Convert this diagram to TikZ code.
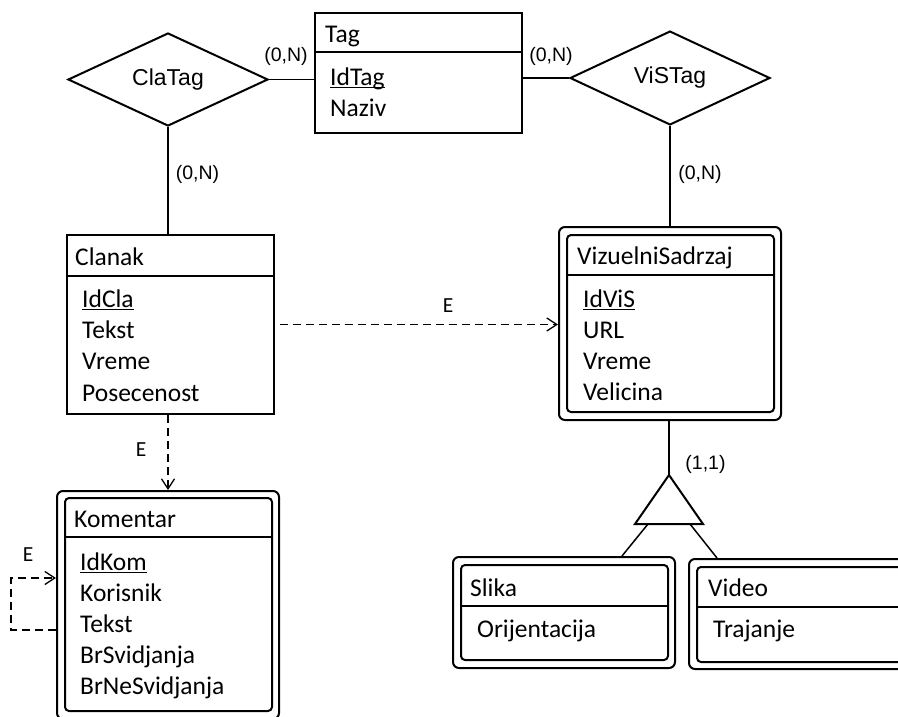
\documentclass[tikz,border=0pt]{standalone}
\usepackage{fontspec}
\setmainfont{Carlito}
\newfontfamily\arialfont{Liberation Sans}
\usetikzlibrary{shapes.geometric,arrows.meta}
\newcommand{\entfont}{\fontsize{25.5}{31}\selectfont}
\newcommand{\relfont}{\arialfont\fontsize{23}{27}\selectfont}
\newcommand{\cardfont}{\arialfont\fontsize{19.5}{23}\selectfont}
\newcommand{\extfont}{\fontsize{21.5}{25}\selectfont}
\newcommand{\keyattr}[1]{\setbox0\hbox{#1}\rlap{\rule[-3pt]{\wd0}{1.4pt}}\box0}

\begin{document}
\begin{tikzpicture}[x=1pt, y=-1pt,
  entity/.style={draw, line width=2pt, minimum width=207pt, inner sep=0pt},
  weakout/.style={draw, line width=2pt, rounded corners=6pt, minimum width=222pt, inner sep=0pt},
  weakin/.style={draw, line width=2pt, rounded corners=4pt, minimum width=207pt, inner sep=0pt},
  divider/.style={line width=2pt},
  relation/.style={draw, diamond, line width=2pt, minimum width=200pt, minimum height=80pt, inner sep=0pt, font=\relfont},
  attr/.style={anchor=base west, inner sep=0pt, font=\entfont},
  card/.style={inner sep=0pt, font=\cardfont},
  extlabel/.style={inner sep=0pt, font=\extfont},
  conn/.style={line width=1.5pt},
  ext/.style={line width=1.3pt, dash pattern=on 8pt off 5pt,
    -{Straight Barb[length=10pt, width=13pt, line width=1.3pt]}}]
\useasboundingbox (0,0) rectangle (898,716);
\clip (0,0) rectangle (898,716);

% Tag
\node[entity, minimum height=120pt] (tag) at (418.5,73) {};
\draw[divider] ([yshift=-40pt]tag.north west) -- ([yshift=-40pt]tag.north east);
\node[attr] (tagname) at (325,42) {Tag};
\node[attr] (tag1) at (330,85) {\keyattr{IdTag}};
\node[attr] (tag2) at (330,116) {Naziv};

% Relations
\node[relation] (clatag) at (168,79.5) {ClaTag};
\node[relation] (vistag) at (670,78) {ViSTag};

% Clanak
\node[entity, minimum height=179pt] (clanak) at (170,324.5) {};
\draw[divider] ([yshift=-42pt]clanak.north west) -- ([yshift=-42pt]clanak.north east);
\node[attr] (claname) at (75,265) {Clanak};
\node[attr] (cla1) at (82,307) {\keyattr{IdCla}};
\node[attr] (cla2) at (82,338) {Tekst};
\node[attr] (cla3) at (82,369) {Vreme};
\node[attr] (cla4) at (82,401) {Posecenost};

% Komentar
\node[weakout, minimum height=228pt] (kom) at (168,605) {};
\node[weakin, minimum height=213pt] (komin) at (168.5,604.5) {};
\draw[divider] ([yshift=-40pt]komin.north west) -- ([yshift=-40pt]komin.north east);
\node[attr] (komname) at (74,527) {Komentar};
\node[attr] (kom1) at (80,570) {\keyattr{IdKom}};
\node[attr] (kom2) at (80,601) {Korisnik};
\node[attr] (kom3) at (80,632) {Tekst};
\node[attr] (kom4) at (80,663) {BrSvidjanja};
\node[attr] (kom5) at (80,694) {BrNeSvidjanja};

% VizuelniSadrzaj
\node[weakout, minimum height=193pt] (vis) at (670,323.5) {};
\node[weakin, minimum height=177pt] (visin) at (670.5,323.5) {};
\draw[divider] ([yshift=-41pt]visin.north west) -- ([yshift=-41pt]visin.north east);
\node[attr] (visname) at (577,264) {VizuelniSadrzaj};
\node[attr] (vis1) at (583,307) {\keyattr{IdViS}};
\node[attr] (vis2) at (583,338) {URL};
\node[attr] (vis3) at (583,369) {Vreme};
\node[attr] (vis4) at (583,400) {Velicina};

% Slika and Video
\node[weakout, minimum height=111pt] (slika) at (564,612.5) {};
\node[weakin, minimum height=95pt] (slikain) at (564.5,612.5) {};
\draw[divider] ([yshift=-42pt]slikain.north west) -- ([yshift=-42pt]slikain.north east);
\node[attr] (slikaname) at (470,596) {Slika};
\node[attr] (slika1) at (477,637) {Orijentacija};

\node[weakout, minimum height=110pt] (video) at (800,614) {};
\node[weakin, minimum height=95pt] (videoin) at (800.5,614.5) {};
\draw[divider] ([yshift=-41pt]videoin.north west) -- ([yshift=-41pt]videoin.north east);
\node[attr] (videoname) at (708,596) {Video};
\node[attr] (video1) at (713,637) {Trajanje};

% Specialization
\coordinate (isa) at (669,475);
\coordinate (isabl) at (635,524);
\coordinate (isabr) at (703,524);
\coordinate (isal) at (648,524);
\coordinate (isar) at (690,524);
\draw[line width=2pt] (isa) -- (isabl) -- (isabr) -- cycle;

% Connectors
\draw[conn] (clatag.east) -- (clatag.east -| tag.west);
\draw[conn] (tag.east |- vistag.west) -- (vistag.west);
\draw[conn] (clatag.south) -- (clatag.south |- clanak.north);
\draw[conn] (vistag.south) -- (vistag.south |- vis.north);
\draw[conn] (isa |- vis.south) -- (isa);
\draw[conn] (isal) -- ([xshift=58pt]slika.north);
\draw[conn] (isar) -- ([xshift=-83pt]video.north);

% Cardinalities
\node[card] (c1) at (286,56) {(0,N)};
\node[card] (c2) at (551,56) {(0,N)};
\node[card] (c3) at (197.5,174) {(0,N)};
\node[card] (c4) at (700,174) {(0,N)};
\node[card] (c5) at (705.5,464) {(1,1)};

% Extensions
\draw[ext, shorten <=5pt] (clanak.east) -- (clanak.east -| vis.west);
\draw[ext] (kom.north |- clanak.south) -- (kom.north);
\draw[ext] ([yshift=-140pt]kom.north west) -- ++(-45,0) |- ([yshift=-88pt]kom.north west);
\node[extlabel] (e1) at (448,306) {E};
\node[extlabel] (e2) at (141,450) {E};
\node[extlabel] (e3) at (28,555) {E};
\end{tikzpicture}
\end{document}
